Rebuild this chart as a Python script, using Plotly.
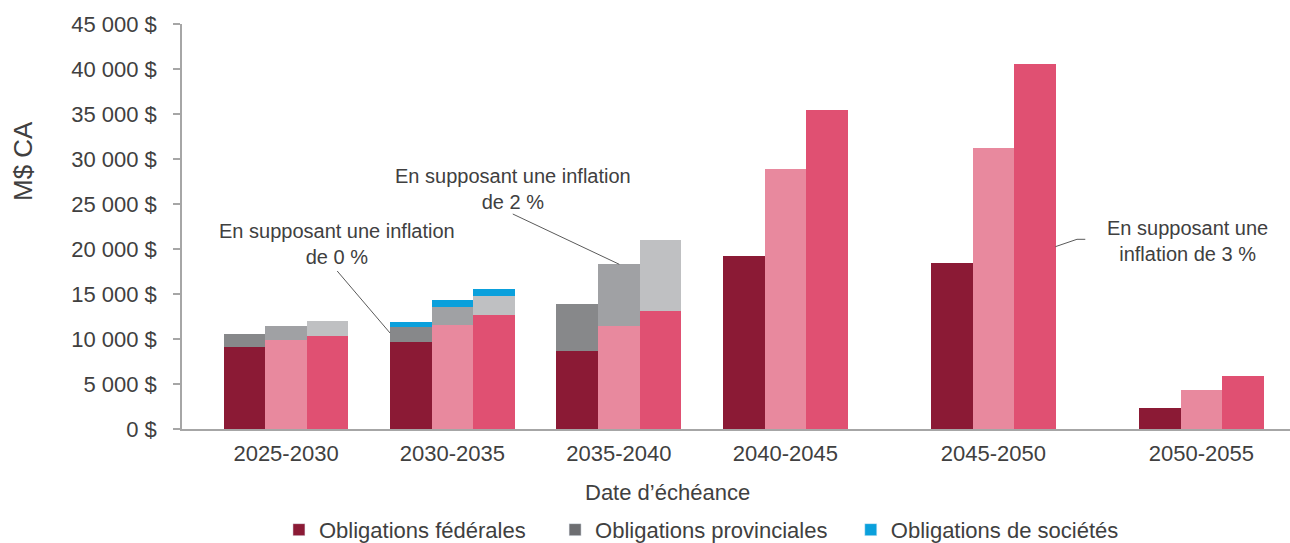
import plotly.graph_objects as go

# ---- data ----
categories = ["2025-2030", "2030-2035", "2035-2040", "2040-2045", "2045-2050", "2050-2055"]

fed_0 = [9150, 9700, 8700, 19200, 18450, 2300]
prov_0 = [1400, 1630, 5150, 0, 0, 0]
corp_0 = [0, 590, 0, 0, 0, 0]

fed_2 = [9900, 11600, 11500, 28900, 31250, 4330]
prov_2 = [1550, 2000, 6800, 0, 0, 0]
corp_2 = [0, 700, 0, 0, 0, 0]

fed_3 = [10300, 12650, 13150, 35400, 40550, 5930]
prov_3 = [1670, 2150, 7850, 0, 0, 0]
corp_3 = [0, 800, 0, 0, 0, 0]

legend_names = ["Obligations fédérales", "Obligations provinciales", "Obligations de sociétés"]
y_tick_vals = [0, 5000, 10000, 15000, 20000, 25000, 30000, 35000, 40000, 45000]
y_tick_text = ["0 $", "5 000 $", "10 000 $", "15 000 $", "20 000 $", "25 000 $",
               "30 000 $", "35 000 $", "40 000 $", "45 000 $"]

# ---- layout helpers ----
group_pos = [0, 4, 8, 12, 17, 22]
offsets = {"0": -1, "2": 0, "3": 1}

colors = {
    "0": ["#8B1A35", "#87888A", "#0AA0DC"],
    "2": ["#E8899E", "#A0A1A4", "#0AA0DC"],
    "3": ["#E05072", "#BFC0C2", "#0AA0DC"],
}
legend_colors = ["#8B1A35", "#6D6E71", "#0AA0DC"]

series = {
    "0": [fed_0, prov_0, corp_0],
    "2": [fed_2, prov_2, corp_2],
    "3": [fed_3, prov_3, corp_3],
}

fig = go.Figure()
for key, vals in series.items():
    xs = [g + offsets[key] for g in group_pos]
    for i, v in enumerate(vals):
        fig.add_trace(go.Bar(
            x=xs, y=v, width=1,
            marker=dict(color=colors[key][i], line=dict(width=0)),
            name=legend_names[i], showlegend=False,
            hoverinfo="skip",
        ))

pads = ["\u00a0" * 4, "\u00a0" * 3, ""]
for i, name in enumerate(legend_names):
    fig.add_trace(go.Bar(x=[None], y=[None], name=name + pads[i],
                         marker=dict(color=legend_colors[i]), showlegend=True))

txt = "#404040"
font_family = "Liberation Sans, Arial, sans-serif"

annots = [
    dict(x=1.23, y=20556, text="En supposant une inflation<br>de 0 %"),
    dict(x=5.46, y=26667, text="En supposant une inflation<br>de 2 %"),
    dict(x=21.66, y=20889, text="En supposant une<br>inflation de 3 %"),
]
annotations = [dict(xref="x", yref="y", showarrow=False, align="center",
                    xanchor="center", yanchor="middle",
                    font=dict(size=20, color=txt, family=font_family), **a) for a in annots]
annotations.append(dict(xref="paper", yref="paper", x=-0.1435, y=0.6617, text="M$ CA",
                        textangle=-90, showarrow=False, xanchor="center", yanchor="middle",
                        font=dict(size=26, color=txt, family=font_family)))
annotations.append(dict(xref="paper", yref="paper", x=0.4386, y=-0.1556,
                        text="Date d’échéance", showarrow=False,
                        xanchor="center", yanchor="middle",
                        font=dict(size=22, color=txt, family=font_family)))

lc = "#5A5A5A"
shapes = [
    dict(type="line", xref="x", yref="y", x0=1.23, y0=17556, x1=2.5, y1=10667,
         line=dict(color=lc, width=1)),
    dict(type="line", xref="x", yref="y", x0=5.45, y0=23889, x1=8.01, y1=18300,
         line=dict(color=lc, width=1)),
    dict(type="path", xref="x", yref="y",
         path="M 18.49 20256 L 19.01 21078 L 19.21 21078",
         line=dict(color=lc, width=1)),
]

fig.update_layout(
    width=1290, height=543,
    margin=dict(l=182, r=0, t=24, b=114, autoexpand=False),
    barmode="relative",
    bargap=0,
    plot_bgcolor="white", paper_bgcolor="white",
    font=dict(family=font_family, color=txt, size=22),
    xaxis=dict(
        range=[-2.5, 24.13], automargin=False,
        tickmode="array", tickvals=group_pos, ticktext=categories,
        tickfont=dict(size=22, color=txt), ticklabelstandoff=4,
        showline=True, linecolor="#A6A6A6", linewidth=1.5,
        showgrid=False, zeroline=False, ticks="",
    ),
    yaxis=dict(
        range=[0, 45000], automargin=False,
        tickmode="array", tickvals=y_tick_vals, ticktext=y_tick_text,
        tickfont=dict(size=22, color=txt), ticklabelstandoff=12,
        showline=True, linecolor="#A6A6A6", linewidth=1.5,
        ticks="outside", ticklen=7, tickcolor="#A6A6A6", tickwidth=1.5,
        showgrid=False, zeroline=False,
    ),
    legend=dict(orientation="h", x=0.0875, xanchor="left", y=-0.249, yanchor="middle",
                font=dict(size=22, color=txt), itemwidth=30, tracegroupgap=0,
                bgcolor="rgba(0,0,0,0)"),
    annotations=annotations,
    shapes=shapes,
)

fig.write_html("out.html", config={"displayModeBar": False},
               post_script="document.body.style.margin='0';document.body.style.overflow='hidden';")
